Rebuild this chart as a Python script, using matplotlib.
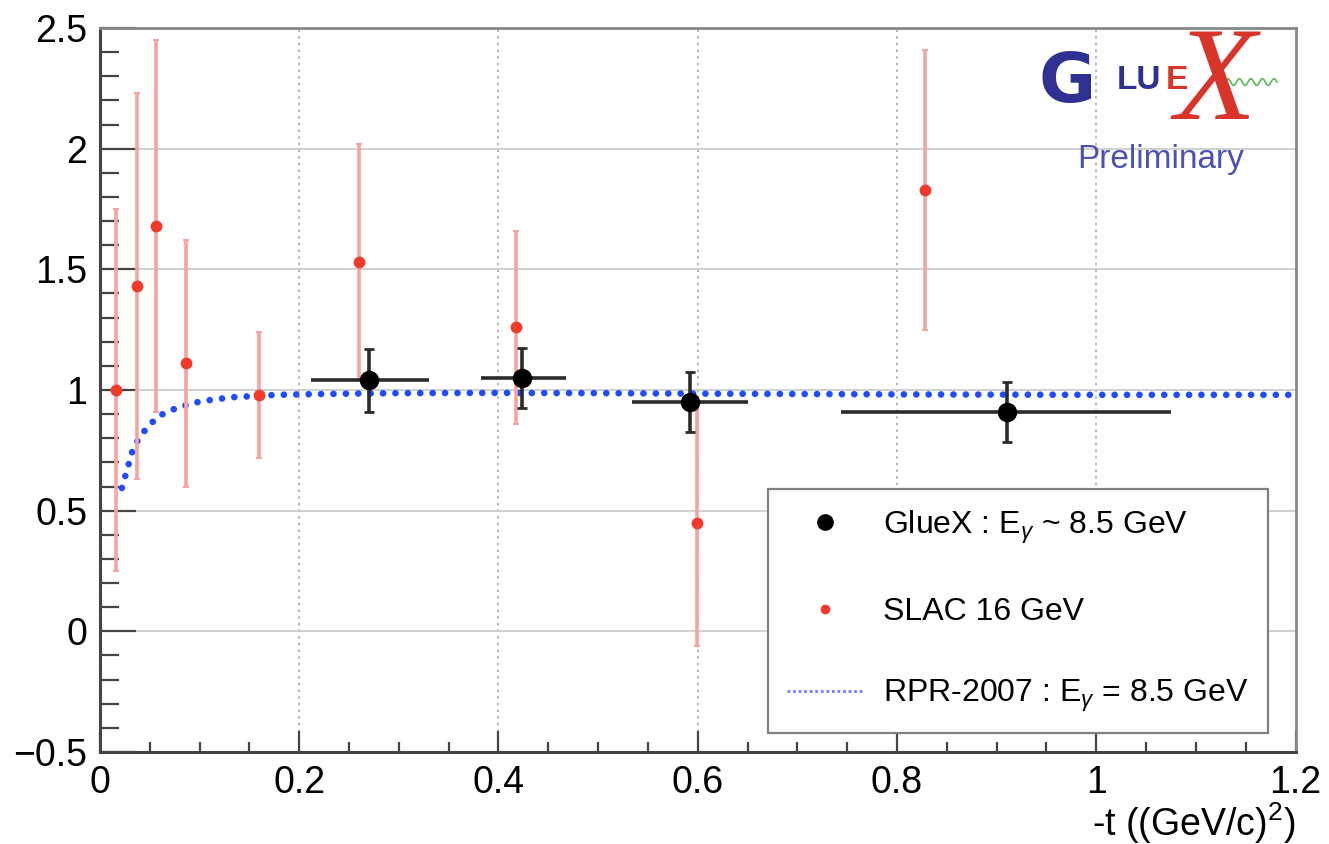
import numpy as np
import matplotlib.pyplot as plt
from matplotlib.ticker import MultipleLocator, FuncFormatter
from matplotlib.lines import Line2D

plt.rcParams['font.family'] = ['Liberation Sans', 'DejaVu Sans']
plt.rcParams['mathtext.fontset'] = 'custom'
plt.rcParams['mathtext.rm'] = 'Liberation Sans'
plt.rcParams['mathtext.it'] = 'Liberation Sans:italic'

# GlueX points: -t, value, t-bin half widths (left/right), stat error
gluex_t = [0.270, 0.424, 0.592, 0.910]
gluex_val = [1.04, 1.05, 0.95, 0.91]
gluex_tlo = [0.058, 0.042, 0.058, 0.166]
gluex_thi = [0.060, 0.044, 0.058, 0.165]
gluex_err = [0.13, 0.125, 0.125, 0.125]

# SLAC 16 GeV points
slac_t = [0.016, 0.037, 0.056, 0.086, 0.160, 0.260, 0.418, 0.599, 0.828]
slac_val = [1.00, 1.43, 1.68, 1.11, 0.98, 1.53, 1.26, 0.45, 1.83]
slac_err = [0.75, 0.80, 0.77, 0.51, 0.26, 0.49, 0.40, 0.51, 0.58]

# RPR-2007 model curve at 8.5 GeV
rpr_t = [0.022, 0.034, 0.047, 0.059, 0.071, 0.084, 0.096, 0.108, 0.121,
         0.133, 0.146, 0.160, 0.180, 0.200, 0.250, 0.300, 0.400, 0.500,
         0.600, 0.800, 1.000, 1.200]
rpr_val = [0.594, 0.767, 0.844, 0.892, 0.916, 0.934, 0.948, 0.957, 0.964,
           0.970, 0.973, 0.977, 0.980, 0.982, 0.985, 0.987, 0.988, 0.987,
           0.985, 0.982, 0.980, 0.980]

labels = ['GlueX : E$_{\\gamma}$ ~ 8.5 GeV', 'SLAC 16 GeV',
          'RPR-2007 : E$_{\\gamma}$ = 8.5 GeV']

fig = plt.figure(figsize=(13.29, 8.44), dpi=100)
ax = fig.add_axes([0.0752, 0.109, 0.8996, 0.8578])

# model curve drawn as round dots
ax.plot(rpr_t, rpr_val, color='#1f4cff', lw=4.8, linestyle=(0, (0.01, 1.85)),
        dash_capstyle='round', zorder=3)

ax.errorbar(slac_t, slac_val, yerr=slac_err, fmt='o', color='#f23a2c', ms=7.5,
            ecolor='#f7a3a0', elinewidth=2.6, capsize=2, capthick=1.5,
            zorder=4)

ax.errorbar(gluex_t, gluex_val, xerr=[gluex_tlo, gluex_thi], fmt='none',
            ecolor='#2b2b2b', elinewidth=2.6, zorder=5)
ax.errorbar(gluex_t, gluex_val, yerr=gluex_err, fmt='o', color='black', ms=13,
            ecolor='#2b2b2b', elinewidth=2.6, capsize=3.5, capthick=2.0,
            zorder=6)

ax.set_xlim(0, 1.2)
ax.set_ylim(-0.5, 2.5)

ax.xaxis.set_major_locator(MultipleLocator(0.2))
ax.xaxis.set_minor_locator(MultipleLocator(0.05))
ax.yaxis.set_major_locator(MultipleLocator(0.5))
ax.yaxis.set_minor_locator(MultipleLocator(0.1))
fmt = FuncFormatter(lambda v, p: ('%g' % round(v, 3)).replace('-', '\u2212'))
ax.xaxis.set_major_formatter(fmt)
ax.yaxis.set_major_formatter(fmt)

ax.tick_params(axis='both', which='both', direction='in', colors='#444',
               labelcolor='black', width=1.6)
ax.tick_params(axis='y', which='major', length=26, labelsize=27, pad=9)
ax.tick_params(axis='y', which='minor', length=13.5)
ax.tick_params(axis='x', which='major', length=15, labelsize=27, pad=9)
ax.tick_params(axis='x', which='minor', length=7.5)

ax.grid(axis='y', which='major', color='#c8c8c8', lw=1.2, ls='-')
ax.grid(axis='x', which='major', color='#a8a8a8', lw=1.2, ls=(0, (1.5, 2.5)))
ax.set_axisbelow(True)

for side in ['left', 'bottom']:
    ax.spines[side].set_color('#444')
    ax.spines[side].set_linewidth(2.2)
for side in ['top', 'right']:
    ax.spines[side].set_color('#888')
    ax.spines[side].set_linewidth(2.0)

ax.set_xlabel('-t ((GeV/c)$^{2}$)', fontsize=27, loc='right', labelpad=0)

# legend shows plain markers and a thin dotted line
handles = [
    Line2D([], [], ls='none', marker='o', ms=11, color='black'),
    Line2D([], [], ls='none', marker='o', ms=6, color='#f23a2c'),
    Line2D([], [], color='#6f7dff', lw=2.0, ls=(0, (1, 1))),
]
leg = ax.legend(handles, labels, loc='lower right',
                bbox_to_anchor=(0.9766, 0.026), borderaxespad=0, fontsize=23,
                frameon=True, fancybox=False, edgecolor='#808080',
                framealpha=1, labelspacing=1.6, handlelength=2.4,
                handletextpad=0.6, borderpad=0.6)
leg.get_frame().set_linewidth(1.6)

# GlueX logo with "Preliminary" tag
fig.text(0.7815, 0.902, 'G', fontsize=50, fontweight='bold', color='#2e3192',
         ha='left', va='center', family='DejaVu Sans')
fig.text(0.8405, 0.905, 'LU', fontsize=24, fontweight='bold', color='#2e3192',
         ha='left', va='center')
fig.text(0.8770, 0.905, 'E', fontsize=24, fontweight='bold', color='#d8342a',
         ha='left', va='center')
fig.text(0.914, 0.898, 'X', fontsize=96, color='#d8342a', ha='center',
         va='center', family='Liberation Serif', style='italic')
wx = np.linspace(0.9217, 0.9608, 80)
wy = 0.9028 + 0.004 * np.sin((wx - wx[0]) / (wx[-1] - wx[0]) * 2 * np.pi * 4.5)
fig.add_artist(Line2D(wx, wy, color='#5cb85c', lw=1.2))
fig.text(0.8735, 0.811, 'Preliminary', fontsize=24, color='#4b50b4',
         ha='center', va='center')

fig.savefig('out.png', dpi=100)
